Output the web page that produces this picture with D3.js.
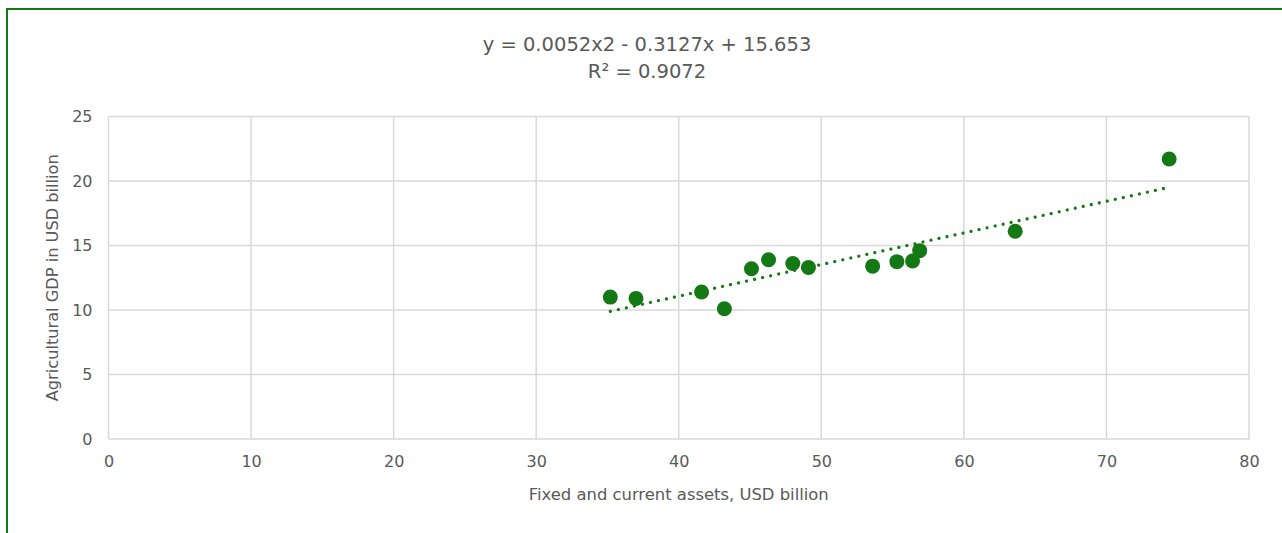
<!DOCTYPE html>
<html>
<head>
<meta charset="utf-8">
<script src="https://cdn.jsdelivr.net/npm/d3@7"></script>
<style>
  body { margin: 0; background: #fff; }
  svg text { font-family: "DejaVu Sans", sans-serif; fill: #595959; }
</style>
</head>
<body>
<div id="chart-area"></div>
<script>
// data
var assets = [35.2, 37.0, 41.6, 43.2, 45.1, 46.3, 48.0, 49.1, 53.6, 55.3, 56.4, 56.9, 63.6, 74.4];
var gdp    = [11.0, 10.9, 11.4, 10.1, 13.2, 13.9, 13.6, 13.3, 13.4, 13.75, 13.8, 14.6, 16.1, 21.7];
var xTicks = [0, 10, 20, 30, 40, 50, 60, 70, 80];
var yTicks = [0, 5, 10, 15, 20, 25];
var eqLines = ["y = 0.0052x2 - 0.3127x + 15.653", "R\u00b2 = 0.9072"];

var W = 1282, H = 533;
var margin = { top:116.5, right:33, bottom:94, left:108.5 };
var width = W - margin.left - margin.right;
var height = H - margin.top - margin.bottom;
var green = "#147814";

var data = assets.map(function(d, i){ return { x: d, y: gdp[i] }; });

var svg = d3.select("#chart-area")
	.append("svg")
		.attr("width", W)
		.attr("height", H);

// outer green frame (runs off right and bottom)
svg.append("rect")
	.attr("x", 7).attr("y", 9)
	.attr("width", W + 20).attr("height", H + 20)
	.attr("fill", "none")
	.attr("stroke", green)
	.attr("stroke-width", 2);

var g = svg.append("g")
	.attr("transform", "translate(" + margin.left + "," + margin.top + ")");

var x = d3.scaleLinear().domain([0, 80]).range([0, width]);
var y = d3.scaleLinear().domain([0, 25]).range([height, 0]);

// grid
g.selectAll(".vgrid").data(xTicks).enter().append("line")
	.attr("x1", function(d){ return x(d); }).attr("x2", function(d){ return x(d); })
	.attr("y1", 0).attr("y2", height)
	.attr("stroke", "#d9d9d9").attr("stroke-width", 1.5);
g.selectAll(".hgrid").data(yTicks).enter().append("line")
	.attr("x1", 0).attr("x2", width)
	.attr("y1", function(d){ return y(d); }).attr("y2", function(d){ return y(d); })
	.attr("stroke", "#d9d9d9").attr("stroke-width", 1.5);

// axes (labels only, lines come from grid)
var bottomAxis = d3.axisBottom(x).tickValues(xTicks).tickSize(0).tickPadding(17);
var xg = g.append("g")
	.attr("class", "bottom axis")
	.attr("transform", "translate(0," + height + ")")
	.call(bottomAxis);
var leftAxis = d3.axisLeft(y).tickValues(yTicks).tickSize(0).tickPadding(16);
var yg = g.append("g")
	.attr("class", "left axis")
	.call(leftAxis);
[xg, yg].forEach(function(a){
	a.select(".domain").remove();
	a.selectAll("text").attr("font-size", "16px").attr("fill", "#595959")
		.style("font-family", "'DejaVu Sans', sans-serif");
});

// linear trend line fitted to the points
var mx = d3.mean(data, function(d){ return d.x; });
var my = d3.mean(data, function(d){ return d.y; });
var sxy = d3.sum(data, function(d){ return (d.x - mx) * (d.y - my); });
var sxx = d3.sum(data, function(d){ return (d.x - mx) * (d.x - mx); });
var slope = sxy / sxx, icpt = my - slope * mx;
var xr = d3.extent(data, function(d){ return d.x; });
g.append("line")
	.attr("x1", x(xr[0])).attr("y1", y(icpt + slope * xr[0]))
	.attr("x2", x(xr[1])).attr("y2", y(icpt + slope * xr[1]))
	.attr("stroke", green)
	.attr("stroke-width", 3.2)
	.attr("stroke-linecap", "round")
	.attr("stroke-dasharray", "0.01 8.2");

// points
g.selectAll("circle").data(data).enter().append("circle")
	.attr("cx", function(d){ return x(d.x); })
	.attr("cy", function(d){ return y(d.y); })
	.attr("r", 7.5)
	.attr("fill", green);

// equation label
svg.append("g").selectAll("text").data(eqLines).enter().append("text")
	.attr("x", 647)
	.attr("y", function(d, i){ return 51 + i * 27; })
	.attr("text-anchor", "middle")
	.attr("font-size", "19.5px")
	.text(function(d){ return d; });

// axis titles
svg.append("text")
	.attr("x", margin.left + width / 2)
	.attr("y", 500)
	.attr("text-anchor", "middle")
	.attr("font-size", "16.4px")
	.text("Fixed and current assets, USD billion");

svg.append("text")
	.attr("transform", "translate(58," + (margin.top + height / 2) + ") rotate(-90)")
	.attr("text-anchor", "middle")
	.attr("font-size", "16.2px")
	.text("Agricultural GDP in USD billion");
</script>
</body>
</html>
